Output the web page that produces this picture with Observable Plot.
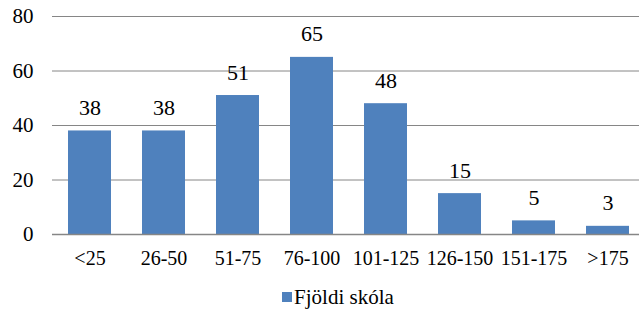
<!DOCTYPE html>
<html><head><meta charset="utf-8">
<script src="https://cdn.jsdelivr.net/npm/d3@7"></script>
<script src="https://cdn.jsdelivr.net/npm/@observablehq/plot@0.6"></script>
<style>
body{margin:0;background:#fff;overflow:hidden;}
#legend{display:flex;justify-content:center;align-items:center;font-size:21px;color:#000;height:44px;margin-left:37px;}
#legend span.sw{display:inline-block;width:10px;height:10px;background:#4F81BD;margin-right:2px;}
</style></head>
<body>
<div id="chart"></div>
<div id="legend"><span class="sw"></span><span>Fjöldi skóla</span></div>
<script>
const categories = ["<25","26-50","51-75","76-100","101-125","126-150","151-175",">175"];
const values = [38,38,51,65,48,15,5,3];
const yTicks = [0,20,40,60,80];
const data = categories.map((c,i)=>({cat:c, v:values[i]}));

function pickSerif(){
  const cands = ["Liberation Serif","Times New Roman","Tinos","DejaVu Serif","Noto Serif","FreeSerif","Nimbus Roman","Times"];
  const ctx = document.createElement("canvas").getContext("2d");
  const s = "Fjöldi skóla 0123456789 -<>";
  const w = f => { ctx.font = "40px " + f; return ctx.measureText(s).width; };
  const b1 = w("monospace");
  for (const c of cands){
    const a = w('"'+c+'", monospace'), b = w('"'+c+'", sans-serif');
    if (a === b && a !== b1) return '"'+c+'", serif';
  }
  return "serif";
}
const FONT = pickSerif();
document.body.style.fontFamily = FONT;

const plot = Plot.plot({
  width:639, height:275,
  marginLeft:52, marginRight:0, marginTop:16, marginBottom:41,
  style:{fontFamily:FONT, fontSize:"21px", color:"#000", background:"#fff", overflow:"hidden"},
  x:{domain:categories, range:[52,645.6], paddingInner:0.42, paddingOuter:0.21, label:null},
  y:{domain:[0,80], ticks:yTicks, label:null},
  marks:[
    Plot.gridY(yTicks.filter(t=>t>0), {stroke:"#868686", strokeOpacity:1, strokeWidth:1}),
    Plot.barY(data, {x:"cat", y:"v", fill:"#4F81BD"}),
    Plot.ruleY([0], {stroke:"#868686", strokeWidth:1.5}),
    Plot.axisX({tickSize:0, tickPadding:16, fontSize:20, label:null}),
    Plot.axisY({ticks:yTicks, tickSize:0, tickPadding:19, fontSize:21, label:null}),
    Plot.text(data, {x:"cat", y:"v", text:d=>String(d.v), dy:-16, lineAnchor:"bottom", fontSize:22, fill:"#000"})
  ]
});
document.getElementById("chart").appendChild(plot);
</script>
</body></html>
